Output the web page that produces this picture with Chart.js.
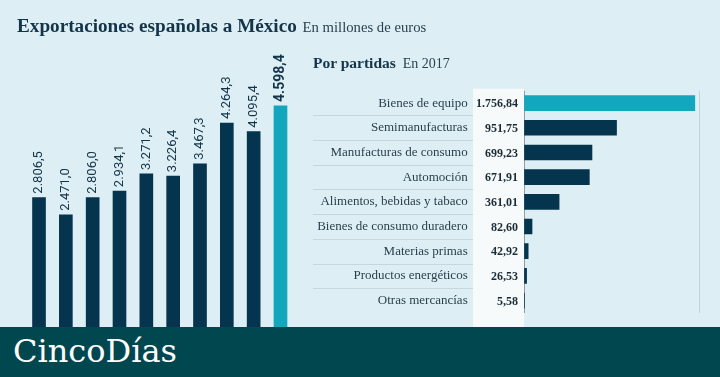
<!DOCTYPE html>
<html><head><meta charset="utf-8">
<script src="https://cdn.jsdelivr.net/npm/chart.js@4.4.0/dist/chart.umd.min.js"></script>
<style>
html,body{margin:0;padding:0;}
body{width:720px;height:377px;background:#ddeff4;position:relative;overflow:hidden;font-family:"Liberation Serif",serif;}
canvas{position:absolute;top:0;}
#c1{left:0;}
#c2{left:300px;}
.t{position:absolute;white-space:nowrap;line-height:20px;}
#title{left:17px;top:16px;font-size:19.2px;font-weight:bold;color:#14344a;}
#title span{font-weight:normal;font-size:14.7px;color:#2b4250;margin-left:1px;}
#sub{left:313px;top:53px;font-size:15.5px;font-weight:bold;color:#14344a;}
#sub span{font-weight:normal;font-size:14px;color:#2b4250;margin-left:3px;}
#footer{position:absolute;left:0;top:327px;width:720px;height:50px;background:#00474f;}
#logo{position:absolute;left:13px;top:4px;font-size:32px;line-height:40px;color:#ffffff;font-family:"DejaVu Serif",serif;}
</style>
</head><body>
<canvas id="c1" width="300" height="377"></canvas>
<canvas id="c2" width="420" height="377"></canvas>
<div class="t" id="title">Exportaciones españolas a México <span>En millones de euros</span></div>
<div class="t" id="sub">Por partidas <span>En 2017</span></div>
<div id="footer"><div id="logo">CincoDías</div></div>
<script>
// ---- Data ----
const years = ["2008","2009","2010","2011","2012","2013","2014","2015","2016","2017"];
const exportValues = [2806.5, 2471.0, 2806.0, 2934.1, 3271.2, 3226.4, 3467.3, 4264.3, 4095.4, 4598.4];
const exportLabels = ["2.806,5","2.471,0","2.806,0","2.934,1","3.271,2","3.226,4","3.467,3","4.264,3","4.095,4","4.598,4"];

const partidas = ["Bienes de equipo","Semimanufacturas","Manufacturas de consumo","Automoción","Alimentos, bebidas y tabaco","Bienes de consumo duradero","Materias primas","Productos energéticos","Otras mercancías"];
const partidaValues = [1756.84, 951.75, 699.23, 671.91, 361.01, 82.60, 42.92, 26.53, 5.58];
const partidaLabels = ["1.756,84","951,75","699,23","671,91","361,01","82,60","42,92","26,53","5,58"];

const NAVY = "#05344e";
const TEAL = "#12a7bd";

// ---- Left chart ----
const barLabelPlugin = {
  id: "barLabels",
  afterDatasetsDraw(chart) {
    const ctx = chart.ctx;
    const meta = chart.getDatasetMeta(0);
    meta.data.forEach((bar, i) => {
      const last = i === meta.data.length - 1;
      ctx.save();
      ctx.translate(bar.x, bar.y - 4);
      ctx.rotate(-Math.PI / 2);
      ctx.textAlign = "left";
      ctx.textBaseline = "middle";
      ctx.fillStyle = "#14344a";
      ctx.font = (last ? "bold 14px" : "13px") + " Roboto, 'Liberation Sans', sans-serif";
      ctx.fillText(exportLabels[i], 0, 0);
      ctx.restore();
    });
  }
};

new Chart(document.getElementById("c1"), {
  type: "bar",
  data: {
    labels: years,
    datasets: [{
      data: exportValues,
      backgroundColor: exportValues.map((v, i) => i === exportValues.length - 1 ? TEAL : NAVY),
      barThickness: 13
    }]
  },
  options: {
    responsive: false,
    animation: false,
    layout: { padding: { left: 25.6, right: 6.1, top: 85.4, bottom: 35.7 } },
    plugins: { legend: { display: false }, tooltip: { enabled: false } },
    scales: {
      x: { display: false },
      y: { display: false, min: 0, max: 5000 }
    }
  },
  plugins: [barLabelPlugin]
});

// ---- Right chart ----
const rowPlugin = {
  id: "rows",
  beforeDraw(chart) {
    const ctx = chart.ctx;
    const area = chart.chartArea;
    const ys = chart.scales.y;
    ctx.save();
    ctx.strokeStyle = "#c6d6dc";
    ctx.lineWidth = 1;
    for (let i = 0; i < partidas.length - 1; i++) {
      const y = Math.round((ys.getPixelForValue(i) + ys.getPixelForValue(i + 1)) / 2) + 0.5;
      ctx.beginPath();
      ctx.moveTo(13, y);
      ctx.lineTo(area.left - 51, y);
      ctx.stroke();
    }
    ctx.fillStyle = "#f6fafb";
    ctx.fillRect(area.left - 51, area.top - 2, 51, area.bottom - area.top + 40);
    ctx.restore();
  },
  afterDatasetsDraw(chart) {
    const ctx = chart.ctx;
    const area = chart.chartArea;
    const ys = chart.scales.y;
    ctx.save();
    ctx.fillStyle = "#1c2c36";
    ctx.font = "bold 12px 'Liberation Serif', serif";
    ctx.textAlign = "right";
    ctx.textBaseline = "middle";
    partidaLabels.forEach((s, i) => {
      ctx.fillText(s, area.left - 6, ys.getPixelForValue(i) + 1);
    });
    ctx.restore();
  }
};

new Chart(document.getElementById("c2"), {
  type: "bar",
  data: {
    labels: partidas,
    datasets: [{
      data: partidaValues,
      backgroundColor: partidaValues.map((v, i) => i === 0 ? TEAL : NAVY),
      barThickness: 15
    }]
  },
  options: {
    indexAxis: "y",
    responsive: false,
    animation: false,
    layout: { padding: { left: 0, right: 21, top: 90.75, bottom: 42.4 } },
    plugins: { legend: { display: false }, tooltip: { enabled: false } },
    scales: {
      x: {
        min: 0, max: 1800,
        ticks: { display: false, stepSize: 1800 },
        border: { display: false },
        grid: {
          drawTicks: false,
          color: (c) => (c.tick && c.tick.value === 0) ? "#8d9ea5" : "#c2d2d8"
        },
        afterFit(s) { s.height = 0; }
      },
      y: {
        border: { display: false },
        grid: { display: false, drawTicks: false },
        ticks: {
          padding: 56.3,
          color: "#2a3f4c",
          font: { family: "'Liberation Serif', serif", size: 13 }
        },
        afterFit(s) { s.width = 224; }
      }
    }
  },
  plugins: [rowPlugin]
});
</script>
</body></html>
